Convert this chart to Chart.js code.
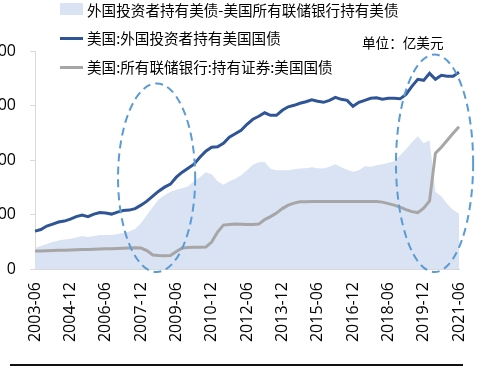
<!DOCTYPE html>
<html>
<head>
<meta charset="utf-8">
<script src="https://cdn.jsdelivr.net/npm/chart.js@4.4.1/dist/chart.umd.min.js"></script>
<style>
  body { margin: 0; width: 486px; height: 380px; overflow: hidden; background: #fff; position: relative; font-family: "Noto Sans CJK SC", sans-serif; }
  #wrap { position: absolute; left: -45px; top: 0; width: 531px; height: 380px; }
  .lgText { position: absolute; left: 87px; font-size: 14.6px; line-height: 20px; color: #000; white-space: nowrap; }
  .sw { position: absolute; left: 60px; width: 23px; }
  #unit { position: absolute; left: 362px; top: 32px; font-size: 13.6px; line-height: 20px; color: #000; white-space: nowrap; }
  #rule { position: absolute; left: 10px; top: 364px; width: 453px; height: 1.5px; background: #111; }
</style>
</head>
<body>
<div id="wrap"><canvas id="chart" width="531" height="380"></canvas></div>
<div id="legend"></div>
<div id="unit">单位：亿美元</div>
<div id="rule"></div>
<script>
// 季度標籤
let months = [
  '2003-06','2003-09','2003-12',
  '2004-03','2004-06','2004-09','2004-12',
  '2005-03','2005-06','2005-09','2005-12',
  '2006-03','2006-06','2006-09','2006-12',
  '2007-03','2007-06','2007-09','2007-12',
  '2008-03','2008-06','2008-09','2008-12',
  '2009-03','2009-06','2009-09','2009-12',
  '2010-03','2010-06','2010-09','2010-12',
  '2011-03','2011-06','2011-09','2011-12',
  '2012-03','2012-06','2012-09','2012-12',
  '2013-03','2013-06','2013-09','2013-12',
  '2014-03','2014-06','2014-09','2014-12',
  '2015-03','2015-06','2015-09','2015-12',
  '2016-03','2016-06','2016-09','2016-12',
  '2017-03','2017-06','2017-09','2017-12',
  '2018-03','2018-06','2018-09','2018-12',
  '2019-03','2019-06','2019-09','2019-12',
  '2020-03','2020-06','2020-09','2020-12',
  '2021-03','2021-06'
]

// 外國投資者持有美國國債
let foreignHold = [
  13900, 14470, 15750, 16480, 17220, 17580, 18320, 19230, 19780, 19230,
  20150, 20700, 20510, 20150, 20880, 21430, 21610, 22160, 23440, 24910,
  26740, 28570, 30040, 31140, 33700, 35530, 37000, 38460, 41030, 43220,
  44690, 44870, 46150, 48350, 49630, 50920, 53110, 54950, 56040, 57330,
  56410, 56410, 58240, 59520, 60070, 60810, 61360, 62090, 61540, 61170,
  61900, 63000, 62270, 61900, 59710, 61170, 61900, 62640, 62820, 62270,
  62640, 62640, 62450, 64100, 67030, 69600, 69230, 71800, 69600, 71060,
  70700, 70700, 72160
]

// 所有聯儲銀行持有美國國債
let fedHold = [
  6590, 6650, 6700, 6780, 6850, 6920, 6990, 7060, 7140, 7200,
  7260, 7330, 7400, 7470, 7540, 7620, 7690, 7800, 7690, 6780,
  5130, 4950, 4870, 4950, 6410, 7690, 7870, 7950, 7950, 8060,
  9890, 13550, 16120, 16300, 16480, 16410, 16300, 16300, 16480, 18130,
  19230, 20510, 22160, 23440, 24180, 24660, 24720, 24730, 24730, 24730,
  24730, 24730, 24730, 24730, 24730, 24730, 24730, 24730, 24800, 24540,
  23990, 23440, 22710, 21790, 21060, 20700, 22340, 25000, 42500, 44700,
  47260, 49820, 52200
]

// 外國投資者持有美債-聯儲持有美債
let gapHold = [
  7800, 8420, 9160, 9890, 10440, 10810, 11060, 11540, 12090, 11720,
  12090, 12450, 12450, 12450, 12820, 13190, 13740, 14650, 16850, 19780,
  22710, 25640, 27110, 28390, 29120, 29670, 30400, 32230, 33700, 35530,
  34800, 32230, 30950, 32230, 33150, 34430, 36260, 38280, 39190, 39300,
  36810, 36260, 36260, 36260, 36630, 36890, 37000, 37360, 37000, 36890,
  37550, 38460, 37360, 36450, 35710, 36260, 37730, 37550, 38100, 38460,
  39010, 39560, 41760, 43960, 46520, 48720, 46150, 47250, 28320, 26740,
  23810, 21610, 20400
]

let legendNames = [
  '外国投资者持有美债-美国所有联储银行持有美债',
  '美国:外国投资者持有美国国债',
  '美国:所有联储银行:持有证券:美国国债'
]

// 虛線橢圓 (x為季度索引, y為數值)
let circles = [
  { from: 14.1, to: 27.2, top: 68100, bottom: -1100 },
  { from: 61.3, to: 74.4, top: 78700, bottom: -1100 }
]

// legend
let legendTop = [0, 28, 57]
let legendHtml = ''
legendNames.forEach(function(name, i){
  if (i === 0) {
    legendHtml += '<div class="sw" style="top:3px;height:12px;background:#dae3f3"></div>'
  } else {
    legendHtml += '<div class="sw" style="top:' + (legendTop[i] + 9) + 'px;height:3px;background:' + (i === 1 ? '#2f5597' : '#a6a6a6') + '"></div>'
  }
  legendHtml += '<div class="lgText" style="top:' + legendTop[i] + 'px">' + name + '</div>'
})
document.getElementById('legend').innerHTML = legendHtml

const ellipsePlugin = {
  id: 'ellipses',
  afterDatasetsDraw(c) {
    const ctx = c.ctx
    const xs = c.scales.x, ys = c.scales.y
    ctx.save()
    ctx.setLineDash([8, 5])
    ctx.lineWidth = 2
    ctx.strokeStyle = '#5b9bd5'
    circles.forEach(function(e){
      const x1 = xs.getPixelForValue(e.from), x2 = xs.getPixelForValue(e.to)
      const y1 = ys.getPixelForValue(e.top), y2 = ys.getPixelForValue(e.bottom)
      ctx.beginPath()
      ctx.ellipse((x1 + x2) / 2, (y1 + y2) / 2, (x2 - x1) / 2, (y2 - y1) / 2, 0, 0, Math.PI * 2)
      ctx.stroke()
    })
    ctx.restore()
  }
}

const tickFont = { family: 'Open Sans', size: 16 }

new Chart(document.getElementById('chart').getContext('2d'), {
  type: 'line',
  data: {
    labels: months,
    datasets: [
      { label: legendNames[1], data: foreignHold, borderColor: '#2f5597', borderWidth: 3, pointRadius: 0, fill: false, order: 1 },
      { label: legendNames[2], data: fedHold, borderColor: '#a6a6a6', borderWidth: 3, pointRadius: 0, fill: false, order: 2 },
      { label: legendNames[0], data: gapHold, borderWidth: 0, borderColor: 'rgba(0,0,0,0)', backgroundColor: '#dae3f3', pointRadius: 0, fill: 'origin', order: 3 }
    ]
  },
  options: {
    responsive: false,
    animation: false,
    layout: { padding: { top: 51, right: 27, left: 0, bottom: 0 } },
    plugins: { legend: { display: false }, tooltip: { enabled: false } },
    scales: {
      x: {
        grid: { display: true, drawOnChartArea: false, drawTicks: false },
        border: { display: true, color: '#d9d9d9' },
        ticks: {
          autoSkip: false, maxRotation: 90, minRotation: 90, padding: 13, color: '#000', font: tickFont,
          callback: function(v, i) { return i % 6 === 0 ? this.getLabelForValue(v) : '' }
        },
        afterFit: function(s) { s.height = 111; s.paddingLeft = 0; s.paddingRight = 0 }
      },
      y: {
        min: 0, max: 80000,
        grid: { drawOnChartArea: false, drawTicks: true, tickLength: 5, color: '#d9d9d9' },
        border: { display: true, color: '#d9d9d9' },
        ticks: { stepSize: 20000, padding: 14, color: '#000', font: tickFont, callback: function(v) { return String(v) } },
        afterFit: function(s) { s.width = 80; s.paddingTop = 0; s.paddingBottom = 0 }
      }
    }
  },
  plugins: [ellipsePlugin]
})
</script>
</body>
</html>
